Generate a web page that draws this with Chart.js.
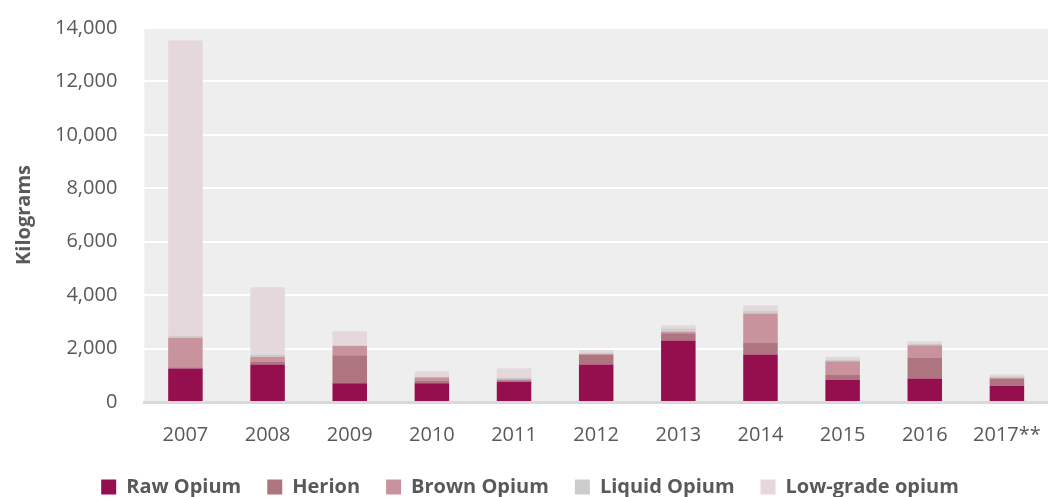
<!DOCTYPE html>
<html>
<head>
<meta charset="utf-8">
<script src="https://cdn.jsdelivr.net/npm/chart.js@4.4.1/dist/chart.umd.min.js"></script>
<style>
  html, body { margin: 0; padding: 0; background: #ffffff; }
  #wrap { width: 1048px; height: 497px; }
</style>
</head>
<body>
<div id="wrap"><canvas id="seizureChart" width="1048" height="497"></canvas></div>
<script>
// Data (kilograms)
const years = ["2007", "2008", "2009", "2010", "2011", "2012", "2013", "2014", "2015", "2016", "2017**"];
const rawOpium = [1250, 1400, 700, 700, 760, 1400, 2300, 1780, 820, 880, 600];
const herion = [50, 100, 1050, 85, 50, 370, 270, 430, 190, 770, 280];
const brownOpium = [1100, 190, 350, 140, 40, 30, 60, 1100, 520, 470, 30];
const liquidOpium = [80, 90, 20, 20, 70, 50, 120, 100, 60, 60, 50];
const lowGradeOpium = [11050, 2520, 530, 210, 340, 100, 120, 210, 100, 90, 80];
const yTicks = [0, 2000, 4000, 6000, 8000, 10000, 12000, 14000];

const textColor = "#595959";
const fontFamily = "'Open Sans', 'Noto Sans', sans-serif";

// grey plot background like the original
const plotBackground = {
    id: "plotBackground",
    beforeDraw(chart) {
        const a = chart.chartArea;
        const c = chart.ctx;
        c.save();
        c.fillStyle = "#eeeeee";
        c.fillRect(a.left, a.top, a.right - a.left, a.bottom - a.top);
        c.restore();
    }
};

// keep wide gaps between legend items but a shorter legend box
const legendHeight = {
    id: "legendHeight",
    beforeLayout(chart) {
        const legend = chart.legend;
        if (!legend || legend._fitPatched) return;
        const fit = legend.fit;
        legend.fit = function () {
            fit.call(this);
            this.height = 46;
        };
        legend._fitPatched = true;
    }
};

function series(label, data, color) {
    return {
        label: label,
        data: data,
        backgroundColor: color,
        borderWidth: 0,
        barPercentage: 0.42,
        categoryPercentage: 1.0
    };
}

const ctx = document.getElementById("seizureChart").getContext("2d");
new Chart(ctx, {
    type: "bar",
    data: {
        labels: years,
        datasets: [
            series("Raw Opium", rawOpium, "#950f4e"),
            series("Herion", herion, "#ae7480"),
            series("Brown Opium", brownOpium, "#c9939d"),
            series("Liquid Opium", liquidOpium, "#cccccc"),
            series("Low-grade opium", lowGradeOpium, "#e4d8dc")
        ]
    },
    options: {
        responsive: false,
        animation: false,
        layout: { padding: { top: 28, right: 0, left: 12, bottom: 0 } },
        plugins: {
            tooltip: { enabled: false },
            legend: {
                position: "bottom",
                labels: {
                    boxWidth: 15,
                    boxHeight: 15,
                    padding: 26,
                    color: textColor,
                    font: { family: fontFamily, size: 20, weight: "bold" }
                }
            }
        },
        scales: {
            x: {
                stacked: true,
                grid: { display: false, drawTicks: false },
                border: { display: true, color: "#d9d9d9", width: 3 },
                ticks: {
                    color: textColor,
                    padding: 21,
                    font: { family: fontFamily, size: 20 }
                },
                afterFit(scale) {
                    scale.height = 49;
                    scale.paddingRight = 0;
                }
            },
            y: {
                stacked: true,
                min: 0,
                max: 14000,
                afterBuildTicks(axis) {
                    axis.ticks = yTicks.map(v => ({ value: v }));
                },
                afterFit(scale) {
                    scale.paddingTop = 0;
                    scale.paddingBottom = 0;
                },
                grid: { color: "#ffffff", lineWidth: 2, drawTicks: false },
                border: { display: false },
                title: {
                    display: true,
                    text: "Kilograms",
                    color: textColor,
                    padding: { top: 0, bottom: -8 },
                    font: { family: fontFamily, size: 20, weight: "bold" }
                },
                ticks: {
                    color: textColor,
                    padding: 27,
                    font: { family: fontFamily, size: 20 },
                    callback: v => v.toLocaleString("en-US")
                }
            }
        }
    },
    plugins: [plotBackground, legendHeight]
});
</script>
</body>
</html>
